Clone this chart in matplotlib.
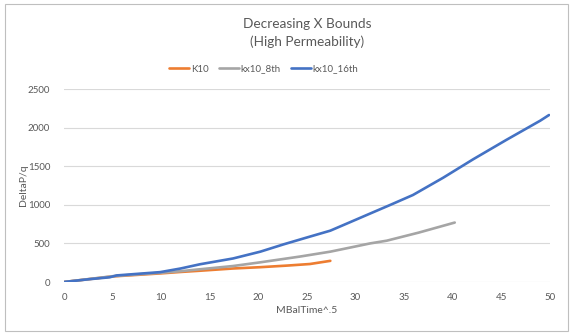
import matplotlib
matplotlib.use("Agg")
import matplotlib.pyplot as plt
from matplotlib.patches import Rectangle

# Data
k10_x = [0, 5, 10, 12, 14, 17.4, 20.2, 23, 25.3, 27.4]
k10_y = [0, 72, 112, 130, 146, 175, 192, 213, 233, 274]

kx8_x = [0, 5, 10, 12, 14, 17.4, 20.2, 24.3, 27.4, 29.4, 31.5, 33.2, 36.5, 40.2]
kx8_y = [0, 75, 120, 140, 165, 207, 255, 330, 393, 445, 500, 535, 640, 770]

kx16_x = [0, 2.5, 4.7, 5.4, 7.8, 9.9, 12, 14, 17.4, 20.2, 22.6, 25, 27.4, 29.4,
          31.5, 33.5, 35.9, 39, 42.1, 45.5, 49, 49.9]
kx16_y = [0, 35, 61, 85, 108, 128, 175, 230, 305, 393, 488, 577, 665, 773,
          887, 995, 1127, 1350, 1590, 1840, 2090, 2163]

series_names = ["K10", "kx10_8th", "kx10_16th"]
colors = ["#ED7D31", "#A5A5A5", "#4472C4"]
x_ticks = list(range(0, 51, 5))
y_ticks = list(range(0, 2501, 500))

plt.rcParams['font.family'] = ['Lato', 'DejaVu Sans']
txt = "#595959"

fig = plt.figure(figsize=(5.72, 3.36), dpi=100)
fig.patches.append(Rectangle((5/572, 1-331/336), (568-5)/572, (331-4)/336,
                             transform=fig.transFigure, fill=False,
                             edgecolor="#BFBFBF", linewidth=0.8))

ax = fig.add_axes([64/572, 1-282/336, (550-64)/572, (282-89)/336])
for xs, ys, name, c in zip([k10_x, kx8_x, kx16_x], [k10_y, kx8_y, kx16_y],
                           series_names, colors):
    ax.plot(xs, ys, color=c, lw=1.9, label=name, solid_capstyle='round')

ax.set_xlim(0, 50)
ax.set_ylim(0, 2500)
ax.set_xticks(x_ticks)
ax.set_yticks(y_ticks)
ax.grid(axis='y', color="#D9D9D9", lw=0.8)
ax.set_axisbelow(True)
for s in ax.spines.values():
    s.set_visible(False)
ax.tick_params(length=0, labelsize=7, colors=txt)
ax.tick_params(axis='y', pad=10)
ax.tick_params(axis='x', pad=8)

ax.set_xlabel("MBalTime^.5", fontsize=7.5, color=txt, labelpad=3)
ax.set_ylabel("DeltaP/q", fontsize=7.5, color=txt, labelpad=0)

fig.text(307/572, 1-33/336, "Decreasing X Bounds\n(High Permeability)",
         ha='center', va='center', fontsize=9.8, color=txt, linespacing=1.45)

handles, labels = ax.get_legend_handles_labels()
fig.legend(handles, labels, loc='center', bbox_to_anchor=(264/572, 1-69/336),
           ncol=3, frameon=False, fontsize=7, labelcolor=txt,
           handlelength=2.0, columnspacing=1.1, handletextpad=0.2)

fig.savefig("out.png", dpi=100)
